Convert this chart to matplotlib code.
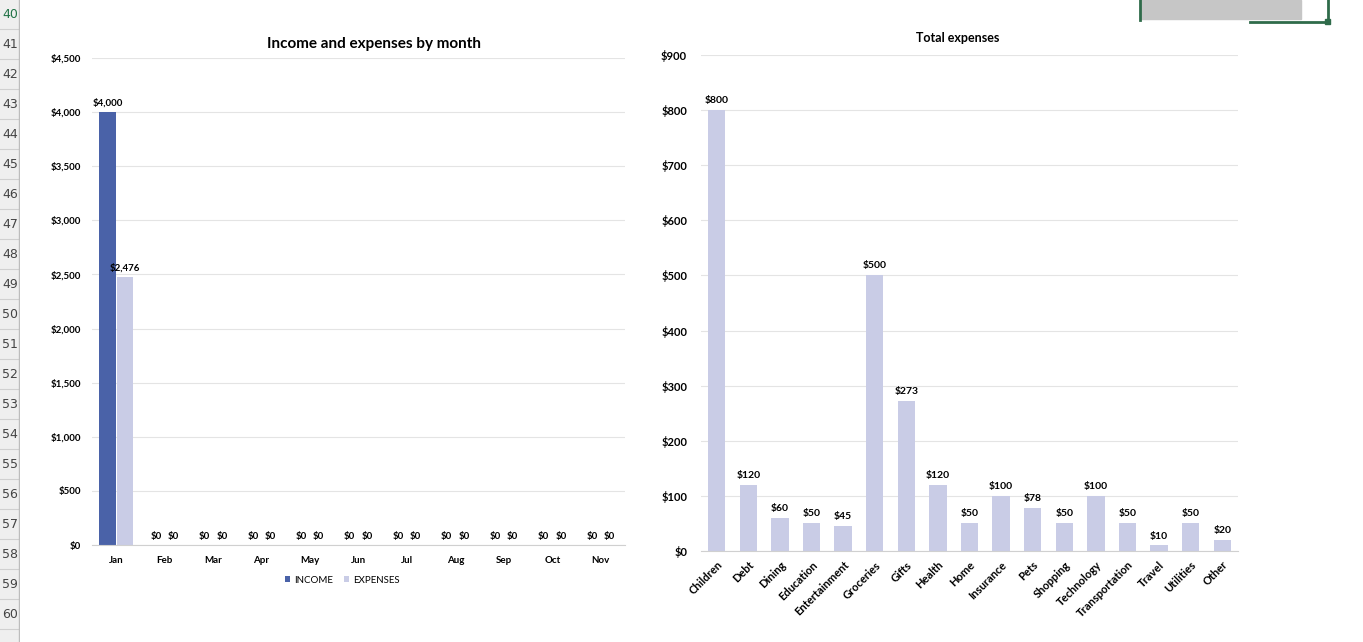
import matplotlib.pyplot as plt
import numpy as np
from matplotlib.ticker import FuncFormatter, MultipleLocator
from matplotlib.patches import Rectangle

months = ['Jan', 'Feb', 'Mar', 'Apr', 'May', 'Jun', 'Jul', 'Aug', 'Sep', 'Oct', 'Nov']
income = [4000, 0, 0, 0, 0, 0, 0, 0, 0, 0, 0]
expenses = [2476, 0, 0, 0, 0, 0, 0, 0, 0, 0, 0]

categories = ['Children', 'Debt', 'Dining', 'Education', 'Entertainment', 'Groceries', 'Gifts',
              'Health', 'Home', 'Insurance', 'Pets', 'Shopping', 'Technology', 'Transportation',
              'Travel', 'Utilities', 'Other']
cat_totals = [800, 120, 60, 50, 45, 500, 273, 120, 50, 100, 78, 50, 100, 50, 10, 50, 20]

row_numbers = list(range(40, 61))

plt.rcParams['font.family'] = ['Lato', 'DejaVu Sans']
dark = '#4A62A8'
light = '#C9CCE6'
grid_c = '#E4E4E4'
money = FuncFormatter(lambda v, p: '${:,.0f}'.format(v))

fig = plt.figure(figsize=(13.63, 6.42), dpi=100)

# excel row header strip
hdr = fig.add_axes([0, 0, 20 / 1363, 1])
hdr.set_xlim(0, 1)
hdr.set_ylim(642, 0)
hdr.axis('off')
hdr.add_patch(Rectangle((0, 0), 1, 642, color='#EFEFEF'))
for i, r in enumerate(row_numbers):
    yc = 14 + i * 30
    hdr.plot([0, 1], [yc + 15, yc + 15], color='#D0D0D0', lw=0.8)
    hdr.text(0.5, yc, str(r), ha='center', va='center', fontsize=9,
             color='#217346' if r == 40 else '#444444', family='DejaVu Sans')
hdr.plot([0.97, 0.97], [0, 642], color='#BDBDBD', lw=1)

# selected cell remnant top right
sel = fig.add_axes([0, 0, 1, 1], zorder=-1)
sel.set_xlim(0, 1363)
sel.set_ylim(642, 0)
sel.axis('off')
sel.add_patch(Rectangle((1141, 0), 160, 19, color='#C6C6C6'))
sel.plot([1140, 1140], [0, 20], color='#2F6B4A', lw=2)
sel.plot([1250, 1326], [22, 22], color='#2F6B4A', lw=2)
sel.plot([1328, 1328], [0, 21], color='#2F6B4A', lw=2)
sel.add_patch(Rectangle((1325, 19), 5, 5, color='#2F6B4A'))

# left chart
ax1 = fig.add_axes([92 / 1363, 97 / 642, 533 / 1363, 487 / 642])
x = np.arange(len(months))
w = 0.34
b1 = ax1.bar(x - w / 2 - 0.01, income, w, color=dark, label='INCOME', zorder=2)
b2 = ax1.bar(x + w / 2 + 0.01, expenses, w, color=light, label='EXPENSES', zorder=2)
for bars in (b1, b2):
    for rect in bars:
        h = rect.get_height()
        ax1.text(rect.get_x() + rect.get_width() / 2, h + 40, '${:,.0f}'.format(h),
                 ha='center', va='bottom', fontsize=7, fontweight='bold')
ax1.set_ylim(0, 4500)
ax1.set_xlim(-0.5, len(months) - 0.5)
ax1.yaxis.set_major_locator(MultipleLocator(500))
ax1.yaxis.set_major_formatter(money)
ax1.set_xticks(x)
ax1.set_xticklabels(months)
ax1.tick_params(axis='both', length=0, labelsize=7, pad=8)
for t in ax1.get_xticklabels() + ax1.get_yticklabels():
    t.set_fontweight('bold')
ax1.yaxis.grid(True, color=grid_c, lw=0.8, zorder=0)
for s in ['top', 'right', 'left']:
    ax1.spines[s].set_visible(False)
ax1.spines['bottom'].set_color('#D0D0D0')
ax1.set_title('Income and expenses by month', fontsize=11, fontweight='bold', pad=7, x=0.53)
ax1.legend(loc='upper center', bbox_to_anchor=(0.47, -0.045), ncol=2, frameon=False,
           fontsize=7, handlelength=0.5, handleheight=0.5, columnspacing=1.2, handletextpad=0.4)

# right chart
ax2 = fig.add_axes([701 / 1363, 91 / 642, 537 / 1363, 496 / 642])
xc = np.arange(len(categories))
b3 = ax2.bar(xc, cat_totals, 0.55, color=light, zorder=2)
for rect in b3:
    h = rect.get_height()
    ax2.text(rect.get_x() + rect.get_width() / 2, h + 9, '${:,.0f}'.format(h),
             ha='center', va='bottom', fontsize=7.5, fontweight='bold')
ax2.set_ylim(0, 900)
ax2.set_xlim(-0.5, len(categories) - 0.5)
ax2.yaxis.set_major_locator(MultipleLocator(100))
ax2.yaxis.set_major_formatter(money)
ax2.set_xticks(xc)
ax2.set_xticklabels(categories, rotation=45, ha='right', rotation_mode='anchor')
ax2.tick_params(axis='both', length=0, labelsize=8, pad=10)
ax2.tick_params(axis='x', pad=6)
for t in ax2.get_xticklabels() + ax2.get_yticklabels():
    t.set_fontweight('bold')
ax2.yaxis.grid(True, color=grid_c, lw=0.8, zorder=0)
for s in ['top', 'right', 'left']:
    ax2.spines[s].set_visible(False)
ax2.spines['bottom'].set_color('#D0D0D0')
ax2.set_title('Total expenses', fontsize=9, fontweight='bold', pad=9, x=0.478)

fig.savefig('out.png', dpi=100, facecolor='white')
